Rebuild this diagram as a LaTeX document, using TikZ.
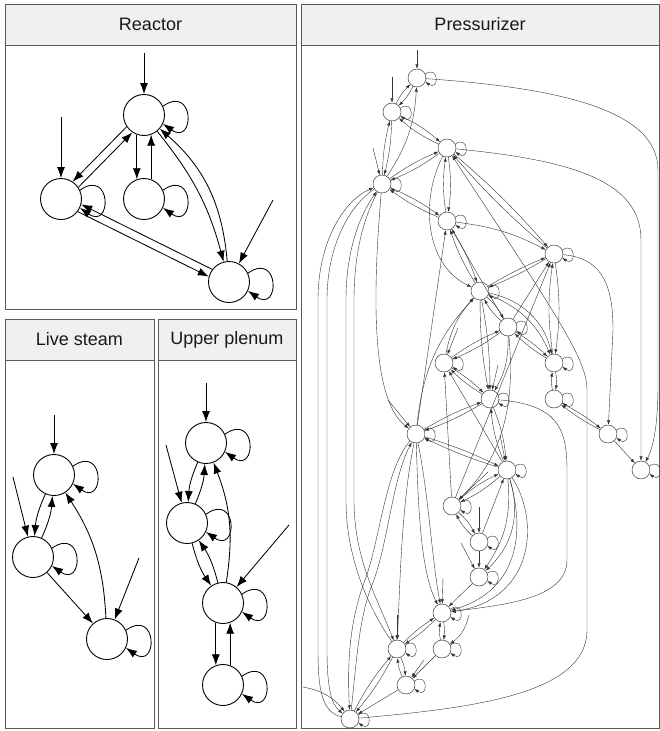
\documentclass[tikz,border=0pt]{standalone}
\usepackage{fontspec}
\setmainfont{Liberation Sans}
\usetikzlibrary{arrows.meta}

\tikzset{
  box/.style={draw=black!65, line width=0.9pt},
  headbox/.style={box, fill=black!6},
  paneltitle/.style={font=\fontsize{18}{20}\selectfont, text=black!90},
  st/.style={circle, draw, line width=0.9pt, minimum size=41pt, inner sep=0pt},
  pst/.style={circle, draw=black!85, line width=0.45pt, minimum size=18pt, inner sep=0pt},
  tr/.style={->, line width=0.85pt, >={Latex[length=11pt,width=8pt]}},
  ptr/.style={->, draw=black!80, line width=0.4pt, >={Latex[length=4.5pt,width=3.2pt]}},
  selfloop/.style={tr, out=35, in=-35, distance=39pt},
  pselfloop/.style={ptr, out=35, in=-35, distance=17pt},
}

\begin{document}
\begin{tikzpicture}[x=1pt, y=-1pt]
\useasboundingbox (0,0) rectangle (660,731);

% panels
\draw[box] (5,4) rectangle (296,309);
\draw[headbox] (5,4) rectangle (296,45);
\node[paneltitle] (treactor) at (150.5,24.5) {Reactor};
\draw[box] (5,319) rectangle (154,728);
\draw[headbox] (5,319) rectangle (154,360);
\node[paneltitle] (tsteam) at (79.5,339.5) {Live steam};
\draw[box] (158,319) rectangle (296,728);
\draw[headbox] (158,319) rectangle (296,360);
\node[paneltitle] (tplenum) at (227,339.5) {Upper plenum};
\draw[box] (301,4) rectangle (659,728);
\draw[headbox] (301,4) rectangle (659,45);
\node[paneltitle] (tpress) at (480,24.5) {Pressurizer};

% reactor
\path (144,115) node[st] (ra) {}
      (61,199) node[st] (rb) {}
      (144,199) node[st] (rc) {}
      (229,282) node[st] (rd) {};
\coordinate (ra0) at (144,53);
\coordinate (rb0) at (61,117);
\coordinate (rd0) at (273,200);

\draw[tr] (ra0) -- (ra);
\draw[tr] (rb0) -- (rb);
\draw[tr] (rd0) -- (rd);
\draw[tr] (ra.214) -- (rb.56);
\draw[tr] (rb.34) -- (ra.236);
\draw[tr] (ra.250) -- (rc.110);
\draw[tr] (rc.70) -- (ra.290);
\draw[tr] (ra) to[bend left=12] (rd);
\draw[tr] (rd) to[bend right=22] (ra);
\draw[tr] (rb.-37) -- (rd.165);
\draw[tr] (rd.143) -- (rb.-15);
\path (ra.25) edge[selfloop] (ra.-25) (rb.25) edge[selfloop] (rb.-25)
      (rc.25) edge[selfloop] (rc.-25) (rd.25) edge[selfloop] (rd.-25);

% live steam
\path (54,475) node[st] (la) {}
      (33,557) node[st] (lb) {}
      (107,639) node[st] (lc) {};
\coordinate (la0) at (54,415);
\coordinate (lb0) at (13,477);
\coordinate (lc0) at (139,558);

\draw[tr] (la0) -- (la);
\draw[tr] (lb0) -- (lb);
\draw[tr] (lc0) -- (lc);
\draw[tr] (la) to[bend right=10] (lb);
\draw[tr] (lb) to[bend right=10] (la);
\draw[tr] (lb) -- (lc);
\draw[tr] (lc) to[bend right=15] (la);
\path (la.25) edge[selfloop] (la.-25) (lb.25) edge[selfloop] (lb.-25)
      (lc.25) edge[selfloop] (lc.-25);

% upper plenum
\path (206,443) node[st] (ua) {}
      (187,523) node[st] (ub) {}
      (223,603) node[st] (uc) {}
      (223,685) node[st] (ud) {};
\coordinate (ua0) at (206,383);
\coordinate (ub0) at (166,445);
\coordinate (uc0) at (289,525);

\draw[tr] (ua0) -- (ua);
\draw[tr] (ub0) -- (ub);
\draw[tr] (uc0) -- (uc);
\draw[tr] (ua) to[bend right=10] (ub);
\draw[tr] (ub) to[bend right=10] (ua);
\draw[tr] (ub) to[bend right=10] (uc);
\draw[tr] (uc) to[bend right=10] (ub);
\draw[tr] (uc) to[bend right=15] (ua);
\draw[tr] (uc.250) -- (ud.110);
\draw[tr] (ud.70) -- (uc.290);
\path (ua.25) edge[selfloop] (ua.-25) (ub.25) edge[selfloop] (ub.-25)
      (uc.25) edge[selfloop] (uc.-25) (ud.25) edge[selfloop] (ud.-25);

% pressurizer
\path (417,78) node[pst] (p1) {}
      (392,112) node[pst] (p2) {}
      (447,148) node[pst] (p3) {}
      (382,184) node[pst] (p4) {}
      (447,221) node[pst] (p5) {}
      (554,254) node[pst] (p6) {}
      (480,291) node[pst] (p7) {}
      (508,327) node[pst] (p8) {}
      (444,363) node[pst] (p9) {}
      (554,363) node[pst] (p10) {}
      (490,399) node[pst] (p11) {}
      (554,399) node[pst] (p12) {}
      (416,434) node[pst] (p13) {}
      (608,434) node[pst] (p14) {}
      (507,470) node[pst] (p15) {}
      (641,470) node[pst] (p16) {}
      (452,506) node[pst] (p17) {}
      (479,542) node[pst] (p18) {}
      (479,577) node[pst] (p19) {}
      (442,613) node[pst] (p20) {}
      (397,649) node[pst] (p21) {}
      (442,649) node[pst] (p22) {}
      (406,685) node[pst] (p23) {}
      (350,719) node[pst] (p24) {};

\coordinate (p1in) at (417,50);
\coordinate (p2in) at (392,77);
\coordinate (p4in) at (373,148);
\coordinate (p9in) at (458,328);
\coordinate (p11in) at (498,365);
\coordinate (p13in) at (388,400);
\coordinate (p15in) at (500,435);
\coordinate (p17in) at (488,472);
\coordinate (p18in) at (479,507);
\coordinate (p19in) at (461,543);
\coordinate (p20in) at (443,578);
\coordinate (p21in) at (397,615);
\coordinate (p22in) at (469,615);
\coordinate (p23in) at (424,660);
\coordinate (p24in) at (303,687);

\draw[ptr] (p1in) -- (p1);
\draw[ptr] (p2in) -- (p2);
\draw[ptr] (p4in) -- (p4);
\draw[ptr] (p9in) -- (p9);
\draw[ptr] (p11in) -- (p11);
\draw[ptr] (p13in) -- (p13);
\draw[ptr] (p15in) -- (p15);
\draw[ptr] (p17in) -- (p17);
\draw[ptr] (p18in) -- (p18);
\draw[ptr] (p19in) -- (p19);
\draw[ptr] (p20in) -- (p20);
\draw[ptr] (p21in) -- (p21);
\draw[ptr] (p22in) to[bend left=20] (p22);
\draw[ptr] (p23in) -- (p23);
\draw[ptr] (p24in) to[bend left=20] (p24);

% upper part
\draw[ptr] (p1) to[bend left=10] (p2);
\draw[ptr] (p2) to[bend left=10] (p1);
\draw[ptr] (p2) to[bend left=6] (p4);
\draw[ptr] (p4) to[bend left=6] (p2);
\draw[ptr] (p4) to[bend right=15] (p1);
\draw[ptr] (p2) to[bend left=8] (p3);
\draw[ptr] (p3) to[bend left=8] (p2);
\draw[ptr] (p3) to[bend left=6] (p4);
\draw[ptr] (p4) to[bend left=6] (p3);
\draw[ptr] (p4) to[bend left=6] (p5);
\draw[ptr] (p5) to[bend left=6] (p4);
\draw[ptr] (p3) to[bend left=8] (p5);
\draw[ptr] (p5) to[bend left=8] (p3);
\draw[ptr] (p3) to[bend left=4] (p6);
\draw[ptr] (p6) to[bend left=4] (p3);
\draw[ptr] (p5) to[bend left=10] (p6);
\draw[ptr] (p1) .. controls (560,88) and (658,110) .. (658,170) -- (658,385) .. controls (658,430) and (652,450) .. (p16);
\draw[ptr] (p3) .. controls (570,160) and (641,180) .. (641,240) -- (p16);
\draw[ptr] (p3) .. controls (420,200) and (425,265) .. (p7);
\draw[ptr] (p5) to[bend left=6] (p7);
\draw[ptr] (p7) to[bend left=6] (p5);
\draw[ptr] (p8) -- (p5);
\draw[ptr] (p24) .. controls (470,708) and (587,695) .. (587,630) -- (587,390) .. controls (587,360) and (560,320) .. (p3);

% long lines on the left
\draw[ptr] (p4) .. controls (372,300) and (372,400) .. (p13);
\draw[ptr] (p24) .. controls (322,712) and (318,690) .. (318,650) -- (318,300) .. controls (318,240) and (345,200) .. (p4);
\draw[ptr] (p4) .. controls (350,205) and (327,245) .. (327,300) -- (327,650) .. controls (327,690) and (332,705) .. (p24);
\draw[ptr] (p21) .. controls (370,610) and (346,560) .. (346,500) -- (346,300) .. controls (346,250) and (360,215) .. (p4);
\draw[ptr] (p4) .. controls (365,215) and (354,250) .. (354,300) -- (354,500) .. controls (354,560) and (378,600) .. (p21);
\draw[ptr] (p13) .. controls (385,470) and (380,540) .. (365,580) .. controls (350,620) and (347,660) .. (p24);
\draw[ptr] (p24) .. controls (356,670) and (358,620) .. (372,585) .. controls (388,545) and (392,480) .. (p13);
\draw[ptr] (p13) .. controls (402,500) and (400,580) .. (p21);
\draw[ptr] (p13) .. controls (418,500) and (420,570) .. (p20);
\draw[ptr] (p13) .. controls (428,490) and (432,560) .. (p20);
\draw[ptr] (p13) -- (p5);
\draw[ptr] (p13) to[bend left=18] (p7);
\draw[ptr] (p9) to[bend left=15] (p7);

% middle part
\draw[ptr] (p6) to[bend left=4] (p7);
\draw[ptr] (p7) to[bend left=4] (p6);
\draw[ptr] (p8) -- (p6);
\draw[ptr] (p6) to[bend left=8] (p10);
\draw[ptr] (p10) to[bend left=8] (p6);
\draw[ptr] (p6) .. controls (605,258) and (613,290) .. (613,330) -- (p14);
\draw[ptr] (p7) to[bend left=5] (p11);
\draw[ptr] (p7) to[bend right=5] (p11);
\draw[ptr] (p7) to[bend left=10] (p8);
\draw[ptr] (p8) to[bend left=10] (p7);
\draw[ptr] (p7) to[bend left=22] (p10);
\draw[ptr] (p7) to[bend left=32] (p10);
\draw[ptr] (p8) to[bend left=6] (p9);
\draw[ptr] (p9) to[bend left=6] (p8);
\draw[ptr] (p8) to[bend left=6] (p10);
\draw[ptr] (p10) to[bend left=6] (p8);
\draw[ptr] (p8) to[bend left=15] (p11);
\draw[ptr] (p8) .. controls (515,400) and (505,455) .. (p17);
\draw[ptr] (p17) -- (p6);
\draw[ptr] (p9) to[bend left=6] (p11);
\draw[ptr] (p11) to[bend left=6] (p9);
\draw[ptr] (p17) -- (p9);
\draw[ptr] (p15) -- (p9);
\draw[ptr] (p10) to[bend left=10] (p12);
\draw[ptr] (p12) to[bend left=10] (p10);
\draw[ptr] (p11) to[bend left=5] (p13);
\draw[ptr] (p13) to[bend left=5] (p11);
\draw[ptr] (p11) to[bend left=8] (p15);
\draw[ptr] (p15) to[bend left=8] (p11);
\draw[ptr] (p11) .. controls (555,405) and (567,425) .. (567,470) -- (567,560) .. controls (567,600) and (500,605) .. (p20);
\draw[ptr] (p12) to[bend left=5] (p14);
\draw[ptr] (p14) to[bend left=5] (p12);
\draw[ptr] (p14) -- (p16);

% lower part
\draw[ptr] (p13) to[bend left=4] (p15);
\draw[ptr] (p15) to[bend left=4] (p13);
\draw[ptr] (p15) to[bend left=8] (p17);
\draw[ptr] (p17) to[bend left=8] (p15);
\draw[ptr] (p18) -- (p15);
\draw[ptr] (p15) to[bend left=20] (p19);
\draw[ptr] (p15) to[bend left=32] (p19);
\draw[ptr] (p15) .. controls (525,530) and (520,590) .. (p20);
\draw[ptr] (p15) .. controls (540,520) and (535,600) .. (p20);
\draw[ptr] (p17) to[bend left=10] (p18);
\draw[ptr] (p18) to[bend left=10] (p17);
\draw[ptr] (p18) -- (p19);
\draw[ptr] (p19) -- (p20);
\draw[ptr] (p20) to[bend left=10] (p22);
\draw[ptr] (p22) to[bend left=10] (p20);
\draw[ptr] (p20) to[bend left=6] (p21);
\draw[ptr] (p21) to[bend left=6] (p20);
\draw[ptr] (p21) to[bend left=10] (p23);
\draw[ptr] (p23) to[bend left=10] (p21);
\draw[ptr] (p21) to[bend left=6] (p24);
\draw[ptr] (p24) to[bend left=6] (p21);
\draw[ptr] (p22) -- (p23);
\draw[ptr] (p23) -- (p24);

\path (p1.25) edge[pselfloop] (p1.-25) (p2.25) edge[pselfloop] (p2.-25)
      (p3.25) edge[pselfloop] (p3.-25) (p4.25) edge[pselfloop] (p4.-25)
      (p5.25) edge[pselfloop] (p5.-25) (p6.25) edge[pselfloop] (p6.-25)
      (p7.25) edge[pselfloop] (p7.-25) (p8.25) edge[pselfloop] (p8.-25)
      (p9.25) edge[pselfloop] (p9.-25) (p10.25) edge[pselfloop] (p10.-25)
      (p11.25) edge[pselfloop] (p11.-25) (p12.25) edge[pselfloop] (p12.-25)
      (p13.25) edge[pselfloop] (p13.-25) (p14.25) edge[pselfloop] (p14.-25)
      (p15.25) edge[pselfloop] (p15.-25) (p16.25) edge[pselfloop] (p16.-25)
      (p17.25) edge[pselfloop] (p17.-25) (p18.25) edge[pselfloop] (p18.-25)
      (p19.25) edge[pselfloop] (p19.-25) (p20.25) edge[pselfloop] (p20.-25)
      (p21.25) edge[pselfloop] (p21.-25) (p22.25) edge[pselfloop] (p22.-25)
      (p23.25) edge[pselfloop] (p23.-25) (p24.25) edge[pselfloop] (p24.-25);
\end{tikzpicture}
\end{document}
